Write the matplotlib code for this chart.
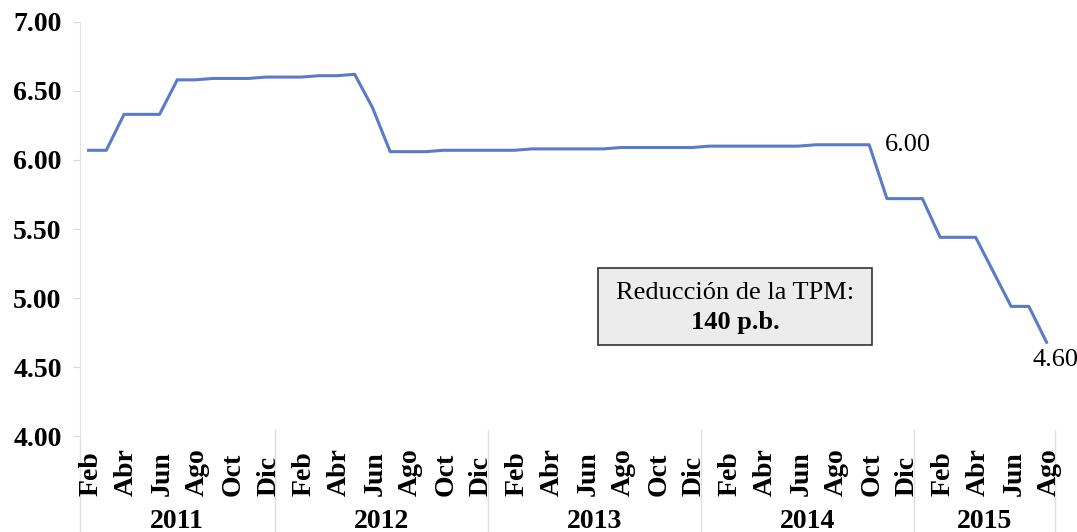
import matplotlib.pyplot as plt
import matplotlib.transforms as mtransforms
from matplotlib.patches import Rectangle
import numpy as np

# Tasa de política monetaria (TPM), mensual feb-2011 a ago-2015
tpm = [6.07, 6.07, 6.33, 6.33, 6.33, 6.58, 6.58, 6.59, 6.59, 6.59, 6.60,
       6.60, 6.60, 6.61, 6.61, 6.62, 6.38, 6.06, 6.06, 6.06, 6.07, 6.07,
       6.07, 6.07, 6.07, 6.08, 6.08, 6.08, 6.08, 6.08, 6.09, 6.09, 6.09,
       6.09, 6.09, 6.10, 6.10, 6.10, 6.10, 6.10, 6.10, 6.11, 6.11, 6.11,
       6.11, 5.72, 5.72, 5.72, 5.44, 5.44, 5.44, 5.19, 4.94, 4.94, 4.68]
meses = ["Feb", "Abr", "Jun", "Ago", "Oct", "Dic"]
anios = ["2011", "2012", "2013", "2014", "2015"]
# meses por año en la serie (feb-dic 2011 ... ene-ago 2015)
meses_por_anio = [11, 12, 12, 12, 8]
yticks = [4.00, 4.50, 5.00, 5.50, 6.00, 6.50, 7.00]

plt.rcParams["font.family"] = ["Liberation Serif", "DejaVu Serif"]

fig = plt.figure(figsize=(10.77, 5.32), dpi=100)
ax = fig.add_axes([0.074, 0.180, 0.906, 0.779])

x = np.arange(len(tpm))
ax.plot(x, tpm, color="#5b7bc8", lw=2.2, solid_joinstyle="round")

ax.set_xlim(-0.5, len(tpm) - 0.5)
ax.set_ylim(4.0, 7.0)
ax.set_yticks(yticks)
ax.set_yticklabels([f"{v:.2f}" for v in yticks], fontsize=20, fontweight="bold")
ax.tick_params(axis="y", length=5, color="#d9d9d9", pad=8)
ax.set_xticks([])

for s in ["top", "right", "bottom"]:
    ax.spines[s].set_visible(False)
ax.spines["left"].set_color("#e3e3e3")

# etiquetas de meses (cada dos meses, rotadas)
trans = mtransforms.blended_transform_factory(ax.transData, ax.transAxes)
for i in range(0, len(tpm), 2):
    ax.text(i + 0.15, -0.143, meses[(i // 2) % 6], rotation=90, ha="center", va="bottom",
            fontsize=20, fontweight="bold", transform=trans, clip_on=False)

# años y separadores
inicio = -0.5
for anio, n in zip(anios, meses_por_anio):
    fin = inicio + n
    ax.text((inicio + fin) / 2, -0.205, anio, ha="center", va="center",
            fontsize=20, fontweight="bold", transform=trans, clip_on=False)
    ax.plot([fin, fin], [0.015, -0.235], color="#e0e0e0", lw=1,
            transform=trans, clip_on=False)
    inicio = fin
ax.plot([-0.5, -0.5], [0.0, -0.235], color="#e0e0e0", lw=1,
        transform=trans, clip_on=False)

# valores inicial y final del periodo de reducción
ax.text(44.9, 6.11, "6.00", fontsize=19, ha="left", va="center")
ax.text(53.2, 4.55, "4.60", fontsize=19, ha="left", va="center")

# recuadro con la reducción acumulada
ax.add_patch(Rectangle((28.7, 4.66), 15.45, 0.555, facecolor="#ececec",
                       edgecolor="#333333", lw=1.2, zorder=3))
ax.text(36.45, 5.04, "Reducción de la TPM:", fontsize=19, ha="center",
        va="center", zorder=4)
ax.text(36.45, 4.82, "140 p.b.", fontsize=19, fontweight="bold",
        ha="center", va="center", zorder=4)

fig.savefig("out.png", dpi=100)
